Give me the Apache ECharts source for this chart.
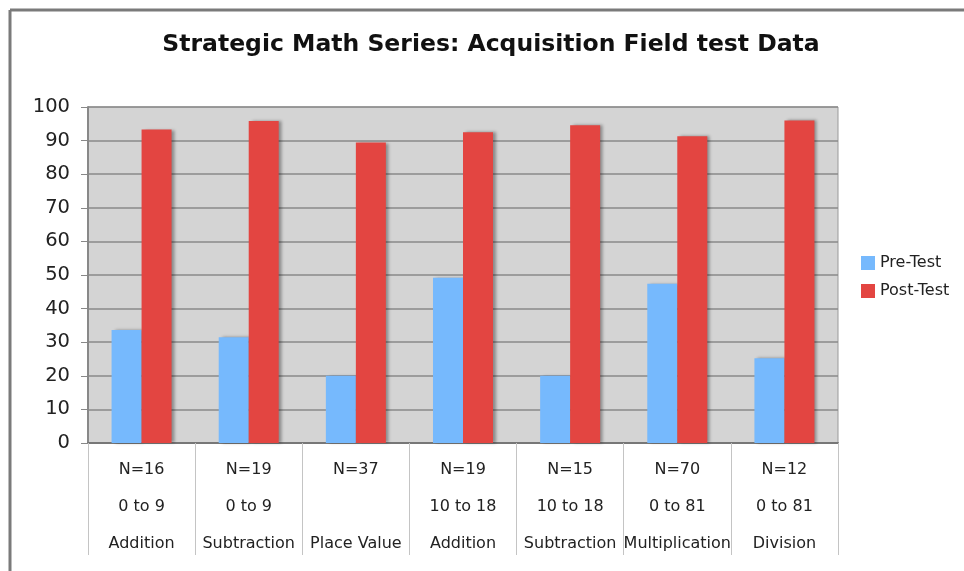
<!DOCTYPE html>
<html>
<head>
<meta charset="utf-8">
<script src="https://cdn.jsdelivr.net/npm/echarts@6/dist/echarts.min.js"></script>
<style>
  html, body { margin: 0; padding: 0; background: #fff; }
  #chart { width: 964px; height: 571px; }
</style>
</head>
<body>
<div id="chart"></div>
<script>
// Data
var nCounts = ['N=16', 'N=19', 'N=37', 'N=19', 'N=15', 'N=70', 'N=12'];
var ranges = ['0 to 9', '0 to 9', '', '10 to 18', '10 to 18', '0 to 81', '0 to 81'];
var topics = ['Addition', 'Subtraction', 'Place Value', 'Addition', 'Subtraction', 'Multiplication', 'Division'];
var preTest = [33.6, 31.5, 20, 49.2, 20, 47.4, 25.2];
var postTest = [93.3, 95.8, 89.4, 92.5, 94.6, 91.3, 96.0];
var seriesNames = ['Pre-Test', 'Post-Test'];
var titleText = 'Strategic Math Series: Acquisition Field test Data';

var categories = nCounts.map(function (n, i) { return n + '\n' + ranges[i] + '\n' + topics[i]; });

var chart = echarts.init(document.getElementById('chart'), null, { renderer: 'canvas' });
var fontFam = '"DejaVu Sans", Verdana, sans-serif';
var barShadow = { shadowColor: 'rgba(0,0,0,0.35)', shadowBlur: 3, shadowOffsetX: 3, shadowOffsetY: 0 };

chart.setOption({
  animation: false,
  backgroundColor: '#ffffff',
  textStyle: { fontFamily: fontFam },
  title: {
    text: titleText,
    left: 491,
    textAlign: 'center',
    top: 33,
    padding: 0,
    textStyle: { fontFamily: fontFam, fontSize: 23.5, fontWeight: 'bold', color: '#111' }
  },
  legend: {
    orient: 'vertical',
    left: 861,
    top: 255,
    padding: 0,
    itemWidth: 14,
    itemHeight: 14,
    itemGap: 12,
    icon: 'rect',
    textStyle: { fontFamily: fontFam, fontSize: 16, color: '#222' },
    data: seriesNames
  },
  grid: {
    left: 88, right: 126, top: 107, bottom: 128,
    show: true, backgroundColor: '#d4d4d4', borderColor: '#9a9a9a', borderWidth: 1
  },
  xAxis: {
    type: 'category',
    data: categories,
    axisLine: { show: true, lineStyle: { color: '#777', width: 2 } },
    axisTick: { show: true, length: 112, interval: 0, lineStyle: { color: '#c4c4c4', width: 1 } },
    axisLabel: {
      interval: 0, margin: 8, fontFamily: fontFam, fontSize: 16, lineHeight: 37, color: '#222'
    },
    splitLine: { show: false }
  },
  yAxis: {
    type: 'value',
    min: 0, max: 100, interval: 10,
    axisLine: { show: true, lineStyle: { color: '#888', width: 2 } },
    axisTick: { show: true, length: 7, lineStyle: { color: '#888' } },
    axisLabel: { fontFamily: fontFam, fontSize: 19.5, color: '#222', margin: 18 },
    splitLine: { show: true, lineStyle: { color: '#8a8a8a', width: 1.5 } }
  },
  graphic: [
    { type: 'line', shape: { x1: 10, y1: 10, x2: 10, y2: 571 }, style: { stroke: '#7a7a7a', lineWidth: 3 } },
    { type: 'line', shape: { x1: 10, y1: 10, x2: 964, y2: 10 }, style: { stroke: '#7a7a7a', lineWidth: 3 } }
  ],
  series: [
    {
      name: seriesNames[0], type: 'bar', data: preTest,
      barWidth: 30, barGap: '0%',
      itemStyle: Object.assign({ color: '#76b9fd' }, barShadow)
    },
    {
      name: seriesNames[1], type: 'bar', data: postTest,
      barWidth: 30, barGap: '0%',
      itemStyle: Object.assign({ color: '#e34541' }, barShadow)
    }
  ]
});
</script>
</body>
</html>
